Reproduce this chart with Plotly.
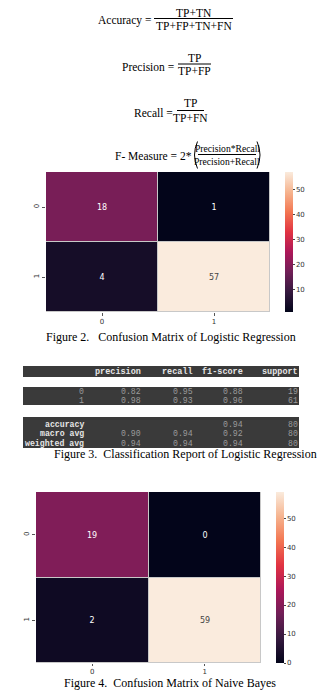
import plotly.graph_objects as go

W, H = 335, 696

def X(px):
    return px / W

def Y(py):
    return 1 - py / H

# ---------------- data ----------------
cm_classes = ["0", "1"]
cm_logreg = [[18, 1], [4, 57]]
cm_nb = [[19, 0], [2, 59]]
cb_ticks_lr = [10, 20, 30, 40, 50]
cb_ticks_nb = [0, 10, 20, 30, 40, 50]

report_cols = ["precision", "recall", "f1-score", "support"]
report_labels = ["0", "1", "accuracy", "macro avg", "weighted avg"]
report_precision = [0.82, 0.98, None, 0.90, 0.94]
report_recall = [0.95, 0.93, None, 0.94, 0.94]
report_f1 = [0.88, 0.96, 0.94, 0.92, 0.94]
report_support = [19, 61, 80, 80, 80]

formula_labels = ["Accuracy =", "Precision =", "Recall =", "F- Measure = 2*"]
formula_num = ["TP+TN", "TP", "TP", "Precision*Recall"]
formula_den = ["TP+FP+TN+FN", "TP+FP", "TP+FN", "Precision+Recall"]

captions = ["Figure 2.   Confusion Matrix of Logistic Regression",
            "Figure 3.  Classification Report of Logistic Regression",
            "Figure 4.  Confusion Matrix of Naive Bayes"]

rocket = [[0.0, "#03051a"], [1/7, "#35193e"], [2/7, "#701f57"], [3/7, "#ad1759"],
          [4/7, "#e13342"], [5/7, "#f37651"], [6/7, "#f6b48f"], [1.0, "#faebdd"]]

SERIF = "Liberation Serif"
MONO = "Liberation Mono"
SANS = "DejaVu Sans"

fig = go.Figure()

def cbar(x0, y0, y1, ticks):
    return dict(x=X(x0), xanchor="left", y=Y((y0 + y1) / 2), yanchor="middle",
                len=y1 - y0, lenmode="pixels", thickness=8, thicknessmode="pixels",
                outlinewidth=0, ticks="outside", ticklen=2, tickcolor="#444",
                tickvals=ticks, tickfont=dict(family=SANS, size=7, color="#333"),
                xpad=0, ypad=0)

fig.add_trace(go.Heatmap(z=cm_logreg, x=cm_classes, y=cm_classes, colorscale=rocket,
                         zmin=min(min(r) for r in cm_logreg), zmax=max(max(r) for r in cm_logreg),
                         texttemplate="%{z}", textfont=dict(family=SANS, size=8),
                         xgap=1, ygap=1, hoverinfo="skip",
                         colorbar=cbar(285, 172, 312, cb_ticks_lr), xaxis="x", yaxis="y"))
fig.add_trace(go.Heatmap(z=cm_nb, x=cm_classes, y=cm_classes, colorscale=rocket,
                         zmin=0, zmax=max(max(r) for r in cm_nb),
                         texttemplate="%{z}", textfont=dict(family=SANS, size=8),
                         xgap=1, ygap=1, hoverinfo="skip",
                         colorbar=cbar(276, 492, 663, cb_ticks_nb), xaxis="x2", yaxis="y2"))

axcommon = dict(type="category", showgrid=False, zeroline=False, showline=False,
                ticks="outside", tickcolor="#555",
                tickfont=dict(family=SANS, size=7, color="#333"))

fig.update_layout(
    width=W, height=H, margin=dict(l=0, r=0, t=0, b=0),
    paper_bgcolor="white", plot_bgcolor="#c8c8c8", showlegend=False,
    xaxis=dict(domain=[X(46), X(270)], anchor="y", ticklen=3, **axcommon),
    yaxis=dict(domain=[Y(312), Y(172)], anchor="x", autorange="reversed", tickangle=-90,
               ticklen=3, **axcommon),
    xaxis2=dict(domain=[X(36), X(261)], anchor="y2", ticklabelstandoff=0, ticklen=2, **axcommon),
    yaxis2=dict(domain=[Y(663), Y(492)], anchor="x2", autorange="reversed", tickangle=-90,
                ticklen=3, **axcommon),
)

ann = []
shapes = []

def txt(x, y, s, size=11.5, family=SERIF, color="black", xanchor="center", bold=False):
    if bold:
        s = "<b>" + s + "</b>"
    ann.append(dict(x=X(x), y=Y(y), xref="paper", yref="paper", text=s, showarrow=False,
                    xanchor=xanchor, yanchor="middle",
                    font=dict(family=family, size=size, color=color)))

# ---------------- formulas ----------------
# (label right end, label y, line x0, line x1, line y, num y, den y, frac font)
fpos = [(153, 21, 154, 233, 18.5, 12.5, 26.5, 11.5),
        (176, 67, 178, 211, 64, 58, 71, 11.5),
        (175, 113, 177, 204, 110.5, 102.5, 118, 11.5),
        (194, 156, 198, 256, 154.5, 148, 162, 9.6)]
for i, (lx, ly, x0, x1, yl, yn, yd, fs) in enumerate(fpos):
    txt(lx, ly, formula_labels[i], xanchor="right")
    txt((x0 + x1) / 2, yn, formula_num[i], size=fs)
    txt((x0 + x1) / 2, yd, formula_den[i], size=fs)
    shapes.append(dict(type="line", xref="paper", yref="paper", x0=X(x0), x1=X(x1),
                       y0=Y(yl), y1=Y(yl), line=dict(color="black", width=1)))
# parentheses of F-measure
shapes.append(dict(type="path", xref="paper", yref="paper",
                   path=f"M {X(197.5)},{Y(141.5)} Q {X(191.5)},{Y(155)} {X(197.5)},{Y(168.5)}",
                   line=dict(color="black", width=1)))
shapes.append(dict(type="path", xref="paper", yref="paper",
                   path=f"M {X(257)},{Y(141.5)} Q {X(263)},{Y(155)} {X(257)},{Y(168.5)}",
                   line=dict(color="black", width=1)))

# ---------------- classification report ----------------
band_col = "#3a3a3a"
tx0, tx1 = 23, 299
for (y0, y1) in [(366, 377), (387, 405), (417, 448)]:
    shapes.append(dict(type="rect", xref="paper", yref="paper", x0=X(tx0), x1=X(tx1),
                       y0=Y(y1), y1=Y(y0), fillcolor=band_col, line=dict(width=0), layer="below"))
col_right = [143, 195, 245, 300]
label_right = 86
header_y = 371.5
row_y = [391.5, 400.5, 424, 433.5, 443]
FS = 8.2
for c, name in enumerate(report_cols):
    txt(col_right[c], header_y, name, size=FS + 0.3, family=MONO, color="#e6e6e6", xanchor="right", bold=True)
cols = [report_precision, report_recall, report_f1, report_support]
for r, lab in enumerate(report_labels):
    is_bold = not lab.isdigit()
    txt(label_right, row_y[r], lab, size=FS, family=MONO,
        color="#e6e6e6" if is_bold else "#9a9a9a", xanchor="right", bold=is_bold)
    for c in range(4):
        v = cols[c][r]
        if v is None:
            continue
        s = f"{v:.2f}" if c < 3 else f"{v}"
        txt(col_right[c], row_y[r], s, size=FS, family=MONO, color="#9a9a9a", xanchor="right")

# ---------------- captions ----------------
txt(171, 337, captions[0], size=12)
txt(185, 454, captions[1], size=12)
txt(170, 683, captions[2], size=12)

fig.update_layout(annotations=ann, shapes=shapes)
fig.write_html("out.html")
